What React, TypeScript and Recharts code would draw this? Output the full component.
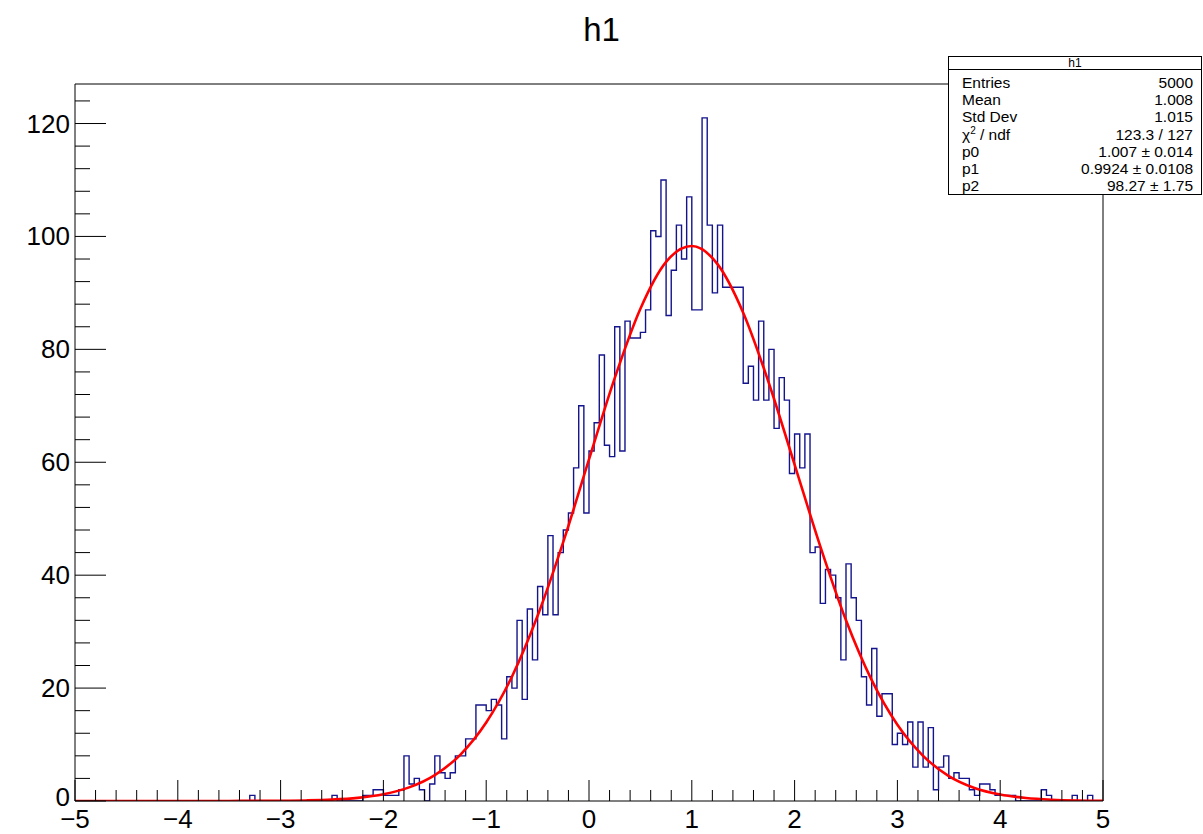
import { ComposedChart, Line, XAxis, YAxis, ReferenceLine } from 'recharts'

// histogram h1: 200 bins from -5 to 5
const binLow = -5
const binWidth = 0.05
const counts = [
  0, 0, 0, 0, 0, 0, 0, 0, 0, 0,
  0, 0, 0, 0, 0, 0, 0, 0, 0, 0,
  0, 0, 0, 0, 0, 0, 0, 0, 0, 0,
  0, 0, 0, 0, 1, 0, 0, 0, 0, 0,
  0, 0, 0, 0, 0, 0, 0, 0, 0, 0,
  1, 0, 0, 0, 0, 0, 1, 1, 2, 2,
  1, 1, 1, 2, 8, 3, 4, 2, 0, 3,
  8, 5, 4, 5, 8, 8, 11, 11, 17, 17,
  16, 18, 17, 11, 22, 20, 32, 18, 34, 25,
  38, 33, 47, 33, 44, 48, 51, 59, 70, 51,
  62, 67, 79, 63, 61, 84, 62, 85, 82, 82,
  83, 87, 101, 100, 110, 86, 94, 102, 96, 107,
  87, 87, 121, 102, 90, 102, 91, 91, 91, 91,
  74, 77, 71, 85, 71, 80, 66, 75, 71, 58,
  65, 59, 65, 44, 45, 35, 41, 40, 36, 25,
  42, 36, 32, 22, 17, 27, 15, 19, 19, 10,
  12, 10, 14, 6, 14, 6, 13, 2, 6, 8,
  4, 5, 4, 4, 2, 1, 3, 3, 2, 1,
  1, 1, 1, 0, 0, 0, 0, 0, 2, 1,
  0, 0, 0, 0, 1, 0, 0, 1, 0, 0,
]

// fitted curve
const fitX = [
  -5, -4.75, -4.5, -4.25, -4, -3.75, -3.5, -3.25, -3, -2.75, -2.5, -2.25, -2, -1.75,
  -1.5, -1.25, -1, -0.75, -0.5, -0.25, 0, 0.25, 0.5, 0.75, 1, 1.25, 1.5, 1.75, 2,
  2.25, 2.5, 2.75, 3, 3.25, 3.5, 3.75, 4, 4.25, 4.5, 4.75, 5,
]
const fitY = [
  0, 0, 0, 0, 0, 0, 0.01, 0.02, 0.04, 0.1, 0.24, 0.55, 1.19, 2.41,
  4.59, 8.23, 13.9, 22.0, 32.8, 45.9, 60.5, 74.9, 87.2, 95.5, 98.3, 95.1, 86.5, 74.0, 59.6,
  45.1, 32.0, 21.4, 13.5, 8.0, 4.42, 2.31, 1.14, 0.53, 0.23, 0.09, 0.04,
]

const xMajor = [-5, -4, -3, -2, -1, 0, 1, 2, 3, 4, 5]
const yMajor = [0, 20, 40, 60, 80, 100, 120]
const yMax = 127

const statLabels = ['Entries', 'Mean', 'Std Dev', 'chi', 'p0', 'p1', 'p2']
const statValues = ['5000', '1.008', '1.015', '123.3 / 127', '1.007 \u00b1 0.014', '0.9924 \u00b1 0.0108', '98.27 \u00b1 1.75']

const histData = counts.map((c, i) => ({ x: binLow + i * binWidth, y: c }))
histData.push({ x: binLow + counts.length * binWidth, y: counts[counts.length - 1] })
const fitData = fitX.map((x, i) => ({ x, y: fitY[i] }))

// minor ticks: 5 per x division, 5 per y division
const xTicks: number[] = []
xMajor.forEach((v, i) => {
  if (i === xMajor.length - 1) { xTicks.push(v); return }
  for (let k = 0; k < 5; k++) xTicks.push(Math.round((v + k * 0.2) * 10) / 10)
})
const yTicks: number[] = []
yMajor.forEach((v) => {
  for (let k = 0; k < 5; k++) if (v + k * 4 <= yMax) yTicks.push(v + k * 4)
})

const font = '"Liberation Sans", Arial, Helvetica, sans-serif'
const fmt = (v: number) => (v < 0 ? '\u2212' + Math.abs(v) : String(v))

const XTick = (props: any) => {
  const { x, y, payload } = props
  const v = payload.value
  const major = xMajor.includes(v)
  return (
    <g>
      <line x1={x} x2={x} y1={y} y2={y - (major ? 21 : 11)} stroke="#000" strokeWidth={1} />
      {major && (
        <text x={x} y={y + 18} textAnchor="middle" dominantBaseline="central" fontSize={26} fontFamily={font} fill="#000">
          {fmt(v)}
        </text>
      )}
    </g>
  )
}

const YTick = (props: any) => {
  const { x, y, payload } = props
  const v = payload.value
  const major = yMajor.includes(v)
  return (
    <g>
      <line x1={x} x2={x + (major ? 31 : 15)} y1={y} y2={y} stroke="#000" strokeWidth={1} />
      {major && (
        <text x={x - 5} y={v === 0 ? y - 4 : y} textAnchor="end" dominantBaseline="central" fontSize={26} fontFamily={font} fill="#000">
          {v}
        </text>
      )}
    </g>
  )
}

export default function App() {
  return (
    <div style={{ position: 'absolute', left: 0, top: 0, width: 1203, height: 834, background: '#fff', fontFamily: font }}>
      <ComposedChart width={1203} height={834} margin={{ top: 84, right: 100, bottom: 0, left: 0 }}>
        <XAxis
          dataKey="x"
          type="number"
          domain={[-5, 5]}
          ticks={xTicks}
          interval={0}
          height={33}
          tickSize={0}
          tickMargin={0}
          tickLine={false}
          tick={<XTick />}
          axisLine={{ stroke: '#000' }}
          allowDataOverflow
        />
        <YAxis
          type="number"
          domain={[0, yMax]}
          ticks={yTicks}
          interval={0}
          width={75}
          tickSize={0}
          tickMargin={0}
          tickLine={false}
          tick={<YTick />}
          axisLine={{ stroke: '#000' }}
          allowDataOverflow
        />
        <ReferenceLine x={5} stroke="#000" />
        <ReferenceLine y={yMax} stroke="#000" />
        <Line
          data={histData}
          dataKey="y"
          type="stepAfter"
          stroke="#14148c"
          strokeWidth={1.4}
          dot={false}
          activeDot={false}
          isAnimationActive={false}
        />
        <Line
          data={fitData}
          dataKey="y"
          type="monotone"
          stroke="#ff0000"
          strokeWidth={2.6}
          dot={false}
          activeDot={false}
          isAnimationActive={false}
        />
      </ComposedChart>

      <div style={{ position: 'absolute', left: 0, top: 12, width: 1203, textAlign: 'center', fontSize: 33, lineHeight: '36px', color: '#000' }}>
        h1
      </div>

      <div
        style={{
          position: 'absolute',
          left: 948,
          top: 56,
          width: 254,
          height: 139,
          border: '1px solid #000',
          background: '#fff',
          boxSizing: 'border-box',
          fontSize: 15.5,
          color: '#000',
        }}
      >
        <div style={{ height: 12, borderBottom: '1px solid #000', textAlign: 'center', fontSize: 12, lineHeight: '12px' }}>h1</div>
        {statLabels.map((label, i) => (
          <div
            key={label}
            style={{ position: 'absolute', left: 13, right: 8, top: 17 + i * 17.2, height: 17, lineHeight: '17px', display: 'flex', justifyContent: 'space-between' }}
          >
            <span>
              {label === 'chi' ? (
                <>
                  {'\u03c7'}
                  <sup style={{ fontSize: 10, lineHeight: 0 }}>2</sup>
                  {' / ndf'}
                </>
              ) : (
                label
              )}
            </span>
            <span>{statValues[i]}</span>
          </div>
        ))}
      </div>
    </div>
  )
}
